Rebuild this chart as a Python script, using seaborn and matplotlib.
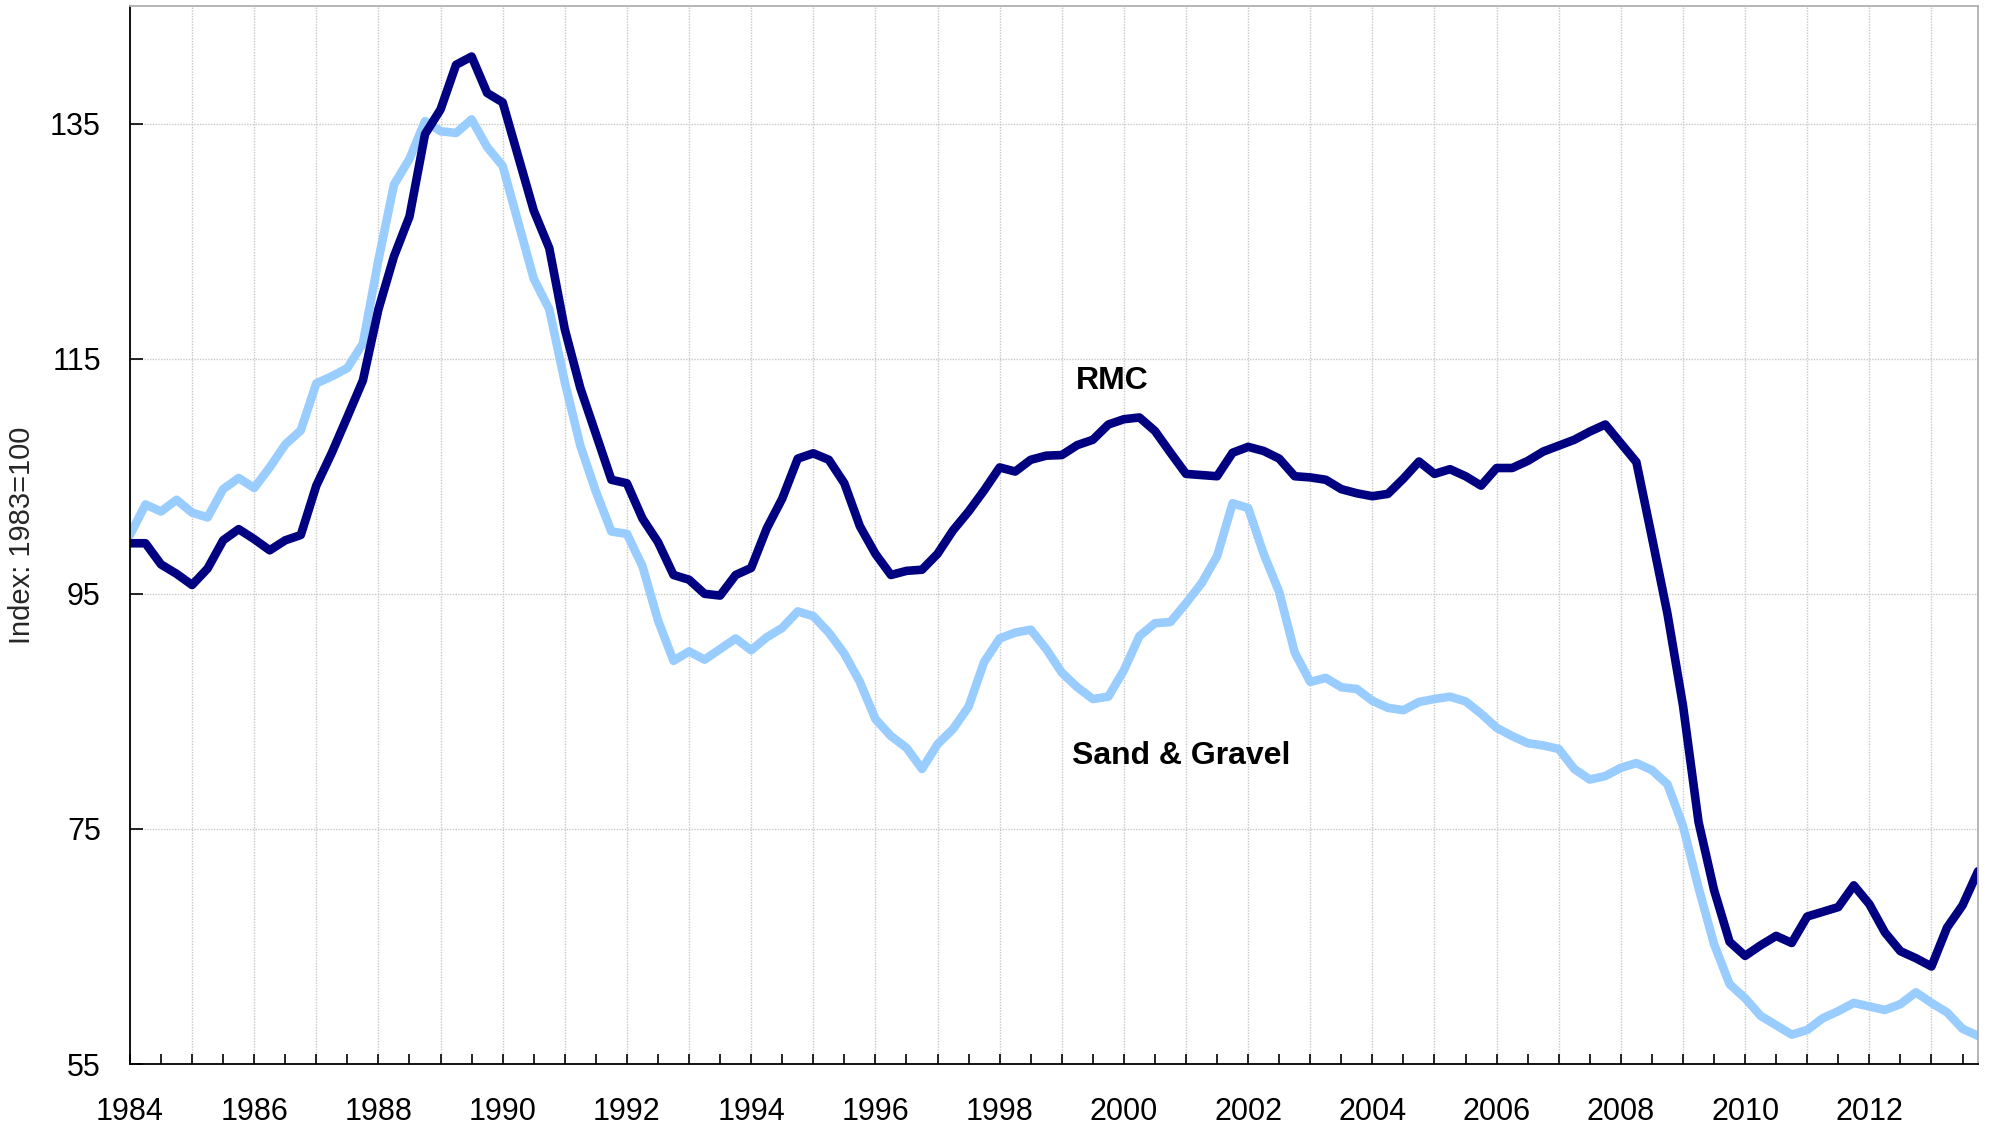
import numpy as np
import pandas as pd
import matplotlib
matplotlib.use("Agg")
import matplotlib.pyplot as plt
import seaborn as sns
from matplotlib.ticker import MultipleLocator, FuncFormatter

# ---- data (quarterly, 1984Q1 .. 2013Q4) ----
start_year = 1984
rmc = [
    99.3, 99.3, 97.5, 96.7,
    95.75, 97.15, 99.55, 100.5,
    99.65, 98.7, 99.55, 100.0,
    104.2, 107.0, 110.05, 113.15,
    119.2, 123.7, 127.1, 134.1,
    136.2, 140.0, 140.7, 137.6,
    136.8, 132.2, 127.6, 124.4,
    117.5, 112.5, 108.6, 104.7,
    104.4, 101.4, 99.4, 96.6,
    96.2, 95.0, 94.85, 96.6,
    97.2, 100.55, 103.1, 106.5,
    106.95, 106.4, 104.4, 100.75,
    98.4, 96.6, 96.95, 97.05,
    98.4, 100.4, 102.0, 103.8,
    105.75, 105.4, 106.4, 106.75,
    106.8, 107.65, 108.1, 109.4,
    109.85, 110.0, 108.85, 107.0,
    105.2, 105.1, 105.0, 107.0,
    107.5, 107.15, 106.5, 105.0,
    104.9, 104.7, 103.9, 103.55,
    103.3, 103.5, 104.8, 106.25,
    105.2, 105.6, 105.0, 104.2,
    105.7, 105.7, 106.3, 107.1,
    107.6, 108.1, 108.8, 109.4,
    107.8, 106.2, 99.8, 93.3,
    85.5, 75.6, 69.8, 65.4,
    64.2, 65.1, 65.9, 65.3,
    67.55, 67.95, 68.35, 70.2,
    68.6, 66.2, 64.6, 64.0,
    63.3, 66.6, 68.5, 71.4,
]
sand_gravel = [
    100.0, 102.6, 102.0, 103.0,
    101.9, 101.5, 103.9, 104.85,
    104.0, 105.75, 107.7, 108.9,
    112.9, 113.5, 114.2, 116.3,
    123.4, 129.8, 132.0, 135.2,
    134.35, 134.2, 135.35, 133.0,
    131.4, 126.6, 121.8, 119.2,
    113.0, 107.6, 103.7, 100.3,
    100.1, 97.35, 92.75, 89.3,
    90.1, 89.4, 90.3, 91.2,
    90.2, 91.3, 92.1, 93.5,
    93.1, 91.7, 89.9, 87.5,
    84.35, 82.9, 81.9, 80.1,
    82.2, 83.5, 85.4, 89.2,
    91.2, 91.7, 91.95, 90.3,
    88.3, 87.05, 86.05, 86.25,
    88.5, 91.4, 92.5, 92.6,
    94.2, 95.9, 98.2, 102.7,
    102.3, 98.4, 95.15, 90.0,
    87.5, 87.85, 87.05, 86.9,
    85.9, 85.3, 85.1, 85.8,
    86.05, 86.25, 85.85, 84.8,
    83.6, 82.9, 82.3, 82.1,
    81.8, 80.1, 79.2, 79.5,
    80.2, 80.6, 80.0, 78.8,
    75.25, 70.0, 65.2, 61.8,
    60.6, 59.1, 58.3, 57.5,
    57.9, 58.9, 59.5, 60.2,
    59.9, 59.6, 60.1, 61.1,
    60.2, 59.4, 58.0, 57.4,
]
series_names = ["Sand & Gravel", "RMC"]
series_colors = ["#99CCFF", "#000080"]
y_ticks = [55, 75, 95, 115, 135]
y_label = "Index: 1983=100"

n = len(rmc)
t = start_year + np.arange(n) * 0.25
df = pd.concat([
    pd.DataFrame({"t": t, "value": sand_gravel, "series": "Sand & Gravel"}),
    pd.DataFrame({"t": t, "value": rmc, "series": "RMC"}),
])

sns.set_theme(style="white")
plt.rcParams["font.family"] = ["Liberation Sans", "DejaVu Sans"]

fig = plt.figure(figsize=(19.9, 11.31), dpi=100)
ax = fig.add_axes([0.0653, 0.0592, 0.9287, 0.9355])

sns.lineplot(data=df, x="t", y="value", hue="series", hue_order=series_names,
             palette=dict(zip(series_names, series_colors)), linewidth=6.2,
             ax=ax, legend=False, estimator=None, sort=False)

ax.set_xlim(1984, 2013.75)
ax.set_ylim(55, 145)
ax.set_yticks(y_ticks)
ax.xaxis.set_major_locator(MultipleLocator(1))
ax.xaxis.set_minor_locator(MultipleLocator(0.5))
ax.xaxis.set_major_formatter(FuncFormatter(lambda v, p: f"{int(round(v))}" if int(round(v)) % 2 == 0 else ""))

ax.grid(True, which="major", color="#c8c8c8", linestyle=(0, (1, 1)), linewidth=1.0)
ax.set_axisbelow(True)

ax.tick_params(axis="x", which="both", direction="in", length=7, width=1.2,
               colors="black", labelsize=22, pad=24, bottom=True)
ax.tick_params(axis="y", which="major", direction="in", length=9, width=1.2,
               colors="black", labelsize=22, pad=21, left=True)

for side in ["left", "bottom"]:
    ax.spines[side].set_color("black")
    ax.spines[side].set_linewidth(1.3)
for side in ["top", "right"]:
    ax.spines[side].set_color("#b0b0b0")
    ax.spines[side].set_linewidth(1.3)

ax.set_xlabel("")
ax.set_ylabel(y_label, fontsize=21, labelpad=10)

ax.text(1999.81, 113.1, "RMC", fontsize=23, fontweight="bold",
        ha="center", va="center", color="black")
ax.text(2000.92, 81.2, "Sand & Gravel", fontsize=23, fontweight="bold",
        ha="center", va="center", color="black")

fig.savefig("out.png", dpi=100)
